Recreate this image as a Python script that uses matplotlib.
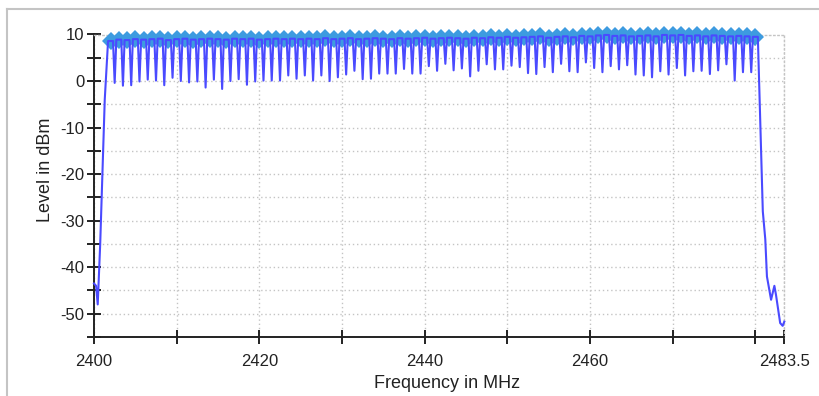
import matplotlib
matplotlib.use("Agg")
import matplotlib.pyplot as plt
from matplotlib.lines import Line2D
from matplotlib.ticker import FixedLocator, NullFormatter

plt.rcParams['font.family'] = ['Liberation Sans', 'DejaVu Sans']
plt.rcParams['axes.unicode_minus'] = False

# ---- data ----
channels = [2402, 2403, 2404, 2405, 2406, 2407, 2408, 2409, 2410, 2411,
            2412, 2413, 2414, 2415, 2416, 2417, 2418, 2419, 2420, 2421,
            2422, 2423, 2424, 2425, 2426, 2427, 2428, 2429, 2430, 2431,
            2432, 2433, 2434, 2435, 2436, 2437, 2438, 2439, 2440, 2441,
            2442, 2443, 2444, 2445, 2446, 2447, 2448, 2449, 2450, 2451,
            2452, 2453, 2454, 2455, 2456, 2457, 2458, 2459, 2460, 2461,
            2462, 2463, 2464, 2465, 2466, 2467, 2468, 2469, 2470, 2471,
            2472, 2473, 2474, 2475, 2476, 2477, 2478, 2479, 2480]

peak_levels = [8.6, 8.9, 8.8, 9.0, 8.9, 9.0, 9.1, 8.8, 9.0, 9.1,
               8.9, 9.0, 9.1, 9.0, 8.9, 9.1, 9.0, 9.1, 8.9, 9.0,
               9.1, 9.0, 9.1, 9.0, 9.1, 9.0, 9.2, 9.0, 9.1, 9.2,
               9.0, 9.1, 9.2, 9.1, 9.0, 9.2, 9.1, 9.2, 9.3, 9.1,
               9.2, 9.3, 9.2, 9.1, 9.3, 9.2, 9.4, 9.3, 9.5, 9.3,
               9.4, 9.5, 9.6, 9.3, 9.5, 9.6, 9.4, 9.7, 9.6, 9.8,
               9.9, 9.7, 9.8, 9.6, 9.7, 9.8, 9.6, 9.9, 9.8, 9.9,
               9.7, 9.8, 9.6, 9.8, 9.7, 9.6, 9.7, 9.6, 9.5]

# minimum level between neighbouring channels (78 gaps)
dip_levels = [-0.4, -1.0, -0.9, -0.1, 0.3, 0.1, -0.9, 0.7, 0.0, -0.3,
              -0.1, -1.4, 0.3, -1.7, 0.0, 0.4, -0.8, -0.1, 0.1, 0.1,
              0.1, 1.2, 0.5, 1.2, 0.1, 1.2, 0.0, 0.8, 1.4, 2.2,
              0.4, 0.5, 1.6, 1.6, 1.6, 2.6, 1.6, 1.6, 3.2, 2.2,
              3.7, 2.3, 2.7, 1.0, 2.2, 3.6, 2.5, 2.5, 3.3, 3.0,
              1.7, 1.5, 3.0, 1.9, 3.7, 2.1, 1.9, 4.0, 2.8, 1.9,
              3.2, 2.5, 3.4, 1.4, 1.2, 0.8, 2.1, 1.4, 2.8, 1.2,
              2.1, 2.2, 1.5, 2.3, 3.6, 0.1, 1.9, 1.9]

lead_freqs = [2400.0, 2400.25, 2400.45, 2400.75, 2401.3]
lead_levels = [-43.5, -44.0, -48.0, -35.0, -4.0]

tail_freqs = [2480.9, 2481.2, 2481.4, 2481.9, 2482.3, 2482.5, 2483.0, 2483.3, 2483.5]
tail_levels = [-28.0, -34.0, -42.0, -47.0, -44.0, -46.0, -52.0, -52.6, -51.7]

x_major = [2400, 2420, 2440, 2460, 2483.5]
x_major_labels = ['2400', '2420', '2440', '2460', '2483.5']
x_minor = [2410, 2430, 2450, 2470, 2480]
y_major = [-50, -40, -30, -20, -10, 0, 10]
y_minor = [-55, -45, -35, -25, -15, -5, 5]

# ---- build trace ----
half_top = 0.3
tr_x = list(lead_freqs)
tr_y = list(lead_levels)
for i, c in enumerate(channels):
    tr_x += [c - half_top, c + half_top]
    tr_y += [peak_levels[i], peak_levels[i]]
    if i < len(dip_levels):
        tr_x.append(c + 0.5)
        tr_y.append(dip_levels[i])
tr_x += tail_freqs
tr_y += tail_levels

# ---- figure ----
fig = plt.figure(figsize=(8.19, 3.96), dpi=100)
ax = fig.add_axes([94 / 819, 1 - 337 / 396, 690.3 / 819, (337 - 34.5) / 396])

ax.plot(channels, peak_levels, linestyle='none', marker='D', markersize=9.5,
        color='#3d9be0', markeredgewidth=0, clip_on=False, zorder=3)
ax.plot(tr_x, tr_y, color='#4a4aff', lw=1.5, zorder=4, clip_on=False)

ax.set_xlim(2400, 2483.5)
ax.set_ylim(-55, 10)

ax.xaxis.set_major_locator(FixedLocator(x_major))
ax.set_xticklabels(x_major_labels)
ax.xaxis.set_minor_locator(FixedLocator(x_minor))
ax.xaxis.set_minor_formatter(NullFormatter())
ax.yaxis.set_major_locator(FixedLocator(y_major))
ax.yaxis.set_minor_locator(FixedLocator(y_minor))
ax.yaxis.set_minor_formatter(NullFormatter())

ax.tick_params(which='both', direction='inout', length=10, width=1.4, color='#222222',
               labelsize=12, labelcolor='#222222')
ax.tick_params(axis='x', which='both', pad=7)
ax.tick_params(axis='y', which='both', pad=2)

ax.grid(True, which='both', linestyle=(0, (1, 2)), color='#c4c4c4', linewidth=1)

for s in ['left', 'bottom']:
    ax.spines[s].set_linewidth(1.4)
    ax.spines[s].set_color('#222222')
for s in ['top', 'right']:
    ax.spines[s].set_linestyle((0, (1, 2)))
    ax.spines[s].set_color('#c4c4c4')
    ax.spines[s].set_linewidth(1)

fig.text(447 / 819, 1 - 384 / 396, 'Frequency in MHz', ha='center', va='center',
         fontsize=13, color='#222222')
fig.text(46 / 819, 1 - 170 / 396, 'Level in dBm', ha='center', va='center',
         rotation=90, fontsize=13, color='#222222')

# outer frame (top and left edges)
fig.add_artist(Line2D([7 / 819, 1], [1 - 9 / 396, 1 - 9 / 396], transform=fig.transFigure,
                      color='#c4c4c4', lw=1.5))
fig.add_artist(Line2D([7 / 819, 7 / 819], [0, 1 - 9 / 396], transform=fig.transFigure,
                      color='#c4c4c4', lw=1.5))

fig.savefig('out.png', dpi=100)
